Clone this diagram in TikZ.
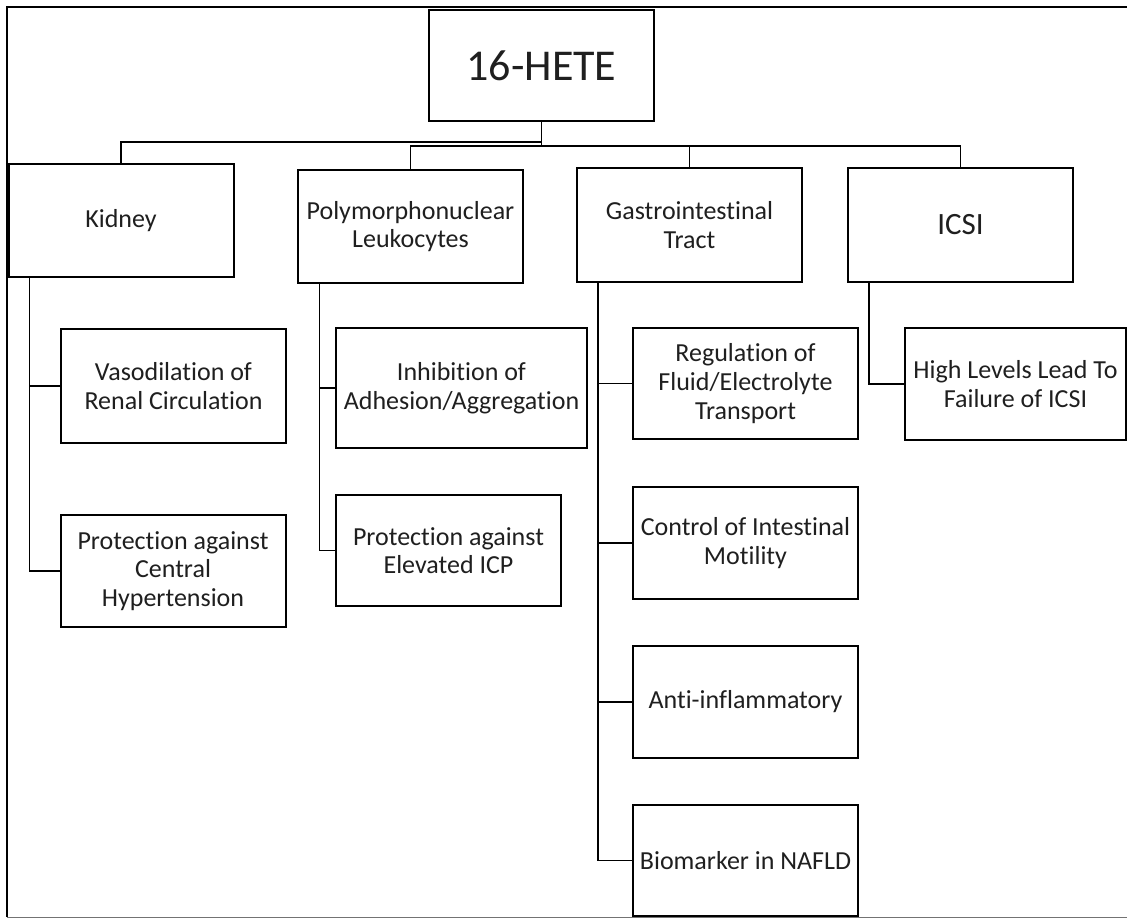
\documentclass[tikz,border=0pt]{standalone}
\usepackage{fontspec}
\setmainfont[Ligatures=NoCommon]{Carlito}
\begin{document}
\begin{tikzpicture}[x=1pt,y=-1pt,
  bx/.style={draw=black, fill=white, line width=2pt, inner sep=0pt, align=center,
    minimum width=225pt, minimum height=112pt, text=black!88,
    font=\fontsize{26}{28.6}\selectfont},
  conn/.style={draw=black, line width=1.9pt}]
\clip (0,0) rectangle (1127,920);
\fill[white] (0,0) rectangle (1127,920);
% outer frame
\draw[line width=2pt] (1140,7) -- (7,7) -- (7,917);
\draw[line width=1pt, black!55] (7,917) -- (1140,917);
% top node
\node[bx, minimum height=111pt, font=\fontsize{44}{48}\selectfont] (hete) at (541.5,65.5) {16-HETE};
% level 1
\node[bx, minimum height=113pt] (kidney) at (121,220.5) {Kidney};
\node[bx, minimum height=113pt] (poly) at (410.5,226.5) {Polymorphonuclear\\Leukocytes};
\node[bx, minimum height=114pt] (gi) at (689.5,225) {Gastrointestinal\\Tract};
\node[bx, minimum height=114pt, font=\fontsize{31}{34}\selectfont] (icsi) at (960.5,225) {ICSI};
% level 2
\node[bx, minimum height=114pt] (vaso) at (173.5,386) {Vasodilation of\\Renal Circulation};
\node[bx, minimum height=112pt] (protc) at (173,571) {Protection against\\Central\\Hypertension};
\node[bx, minimum width=251pt, minimum height=120pt] (inh) at (461.5,388) {Inhibition of\\Adhesion/Aggregation};
\node[bx, minimum height=111pt] (icp) at (448.5,550.5) {Protection against\\Elevated ICP};
\node[bx, minimum height=111pt] (reg) at (745.5,383.5) {Regulation of\\Fluid/Electrolyte\\Transport};
\node[bx, minimum height=112pt] (ctrl) at (745.5,543) {Control of Intestinal\\Motility};
\node[bx, minimum height=112pt] (anti) at (745.5,702) {Anti-inflammatory};
\node[bx, minimum height=111pt] (bio) at (745.5,860.5) {Biomarker in NAFLD};
\node[bx, minimum width=221pt, minimum height=112pt] (high) at (1015.5,384) {High Levels Lead To\\Failure of ICSI};
% connectors from top
\draw[conn] (hete.south) -- ++(0,20) -| (kidney.north);
\draw[conn] (hete.south) -- ++(0,24) -| (poly.north);
\draw[conn] (hete.south) -- ++(0,24) -| (gi.north);
\draw[conn] (hete.south) -- ++(0,24) -| (icsi.north);
% buses
\draw[conn] ([xshift=22pt]kidney.south west) |- (vaso.west);
\draw[conn] ([xshift=22pt]kidney.south west) |- (protc.west);
\draw[conn] ([xshift=22.5pt]poly.south west) |- (inh.west);
\draw[conn] ([xshift=22.5pt]poly.south west) |- (icp.west);
\draw[conn] ([xshift=22pt]gi.south west) |- (reg.west);
\draw[conn] ([xshift=22pt]gi.south west) |- (ctrl.west);
\draw[conn] ([xshift=22pt]gi.south west) |- (anti.west);
\draw[conn] ([xshift=22pt]gi.south west) |- (bio.west);
\draw[conn] ([xshift=22pt]icsi.south west) |- (high.west);
\end{tikzpicture}
\end{document}
